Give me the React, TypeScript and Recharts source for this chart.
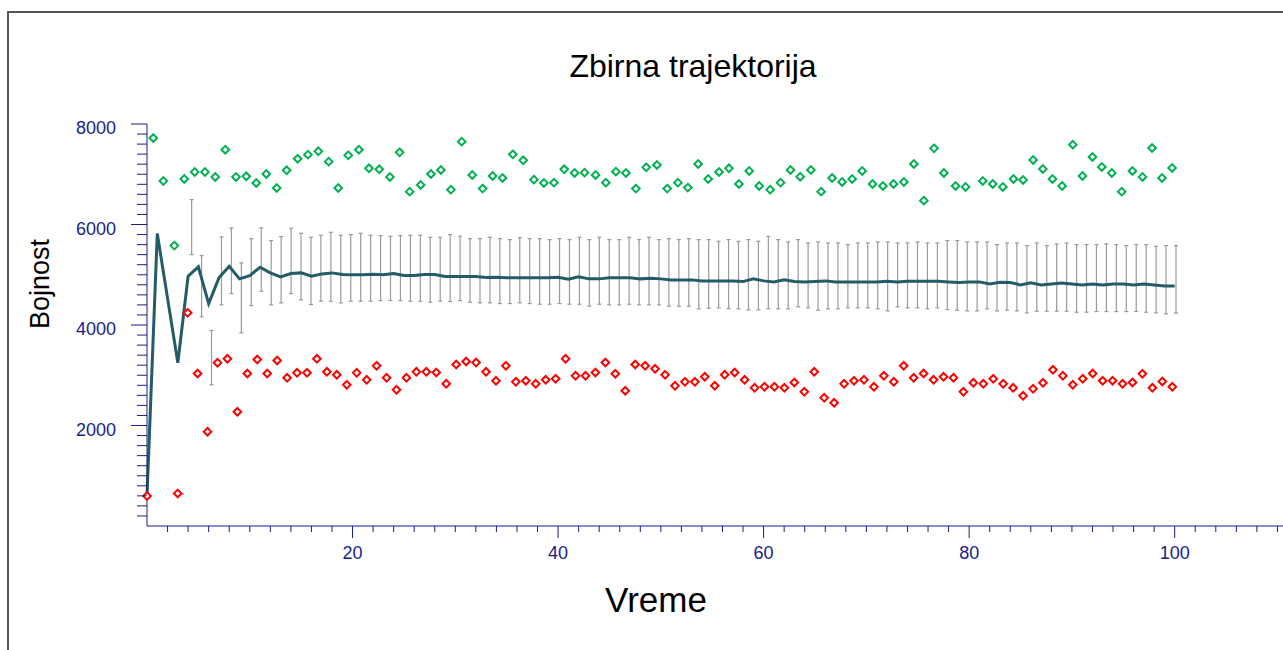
import React from 'react'
import { ComposedChart, Line, Scatter, XAxis, YAxis, ErrorBar } from 'recharts'

const AXIS = '#1c1c8c'
const MEAN = '#235c67'
const GREEN = '#00b050'
const RED = '#ff0000'
const BAR = '#9a9a9a'

// srednja vrednost, t = 0..100
const meanValues = [
  595, 5819, 4530, 3248, 4970, 5157, 4427, 4938, 5169, 4918,
  4984, 5149, 5037, 4958, 5023, 5037, 4970, 5017, 5037, 5004,
  4998, 4998, 5010, 5000, 5023, 4984, 4984, 5004, 5004, 4964,
  4964, 4964, 4964, 4944, 4950, 4938, 4938, 4938, 4938, 4940,
  4950, 4910, 4958, 4918, 4918, 4938, 4938, 4938, 4918, 4930,
  4918, 4898, 4898, 4898, 4878, 4878, 4878, 4878, 4864, 4918,
  4878, 4858, 4898, 4864, 4858, 4868, 4878, 4858, 4858, 4858,
  4858, 4858, 4871, 4858, 4871, 4871, 4871, 4871, 4858, 4844,
  4858, 4858, 4818, 4851, 4844, 4798, 4838, 4798, 4818, 4838,
  4818, 4798, 4818, 4798, 4818, 4818, 4798, 4818, 4798, 4778,
  4778,
]

// maksimum (zeleno): vreme i vrednost
const maxTimes = [
  0.61, 1.59, 2.66, 3.63, 4.64, 5.64, 6.64, 7.62, 8.66, 9.66,
  10.63, 11.61, 12.62, 13.59, 14.66, 15.66, 16.67, 17.68, 18.61, 19.58,
  20.62, 21.6, 22.6, 23.64, 24.58, 25.56, 26.63, 27.63, 28.6, 29.57,
  30.62, 31.65, 32.66, 33.63, 34.6, 35.6, 36.61, 37.65, 38.62, 39.6,
  40.6, 41.61, 42.58, 43.65, 44.65, 45.63, 46.6, 47.57, 48.58, 49.62,
  50.62, 51.66, 52.63, 53.63, 54.61, 55.66, 56.63, 57.6, 58.6, 59.57,
  60.64, 61.65, 62.62, 63.56, 64.6, 65.6, 66.67, 67.64, 68.62, 69.59,
  70.6, 71.61, 72.64, 73.65, 74.62, 75.59, 76.59, 77.54, 78.68, 79.65,
  81.33, 82.3, 83.28, 84.32, 85.25, 86.23, 87.17, 88.11, 89.05, 90.09,
  91.03, 92, 92.91, 93.88, 94.85, 95.89, 96.87, 97.8, 98.77, 99.75,
]
const maxValues = [
  7722, 6867, 5580, 6907, 7046, 7046, 6947, 7489, 6947, 6959,
  6827, 7006, 6728, 7078, 7310, 7390, 7456, 7251, 6728, 7376,
  7489, 7118, 7098, 6947, 7436, 6654, 6787, 7006, 7086, 6694,
  7649, 6986, 6714, 6966, 6927, 7396, 7277, 6893, 6827, 6833,
  7098, 7026, 7032, 6986, 6833, 7052, 7026, 6714, 7137, 7185,
  6714, 6833, 6734, 7205, 6907, 7046, 7118, 6807, 7066, 6767,
  6694, 6833, 7086, 6952, 7086, 6654, 6927, 6847, 6907, 7066,
  6807, 6767, 6807, 6847, 7205, 6475, 7515, 7026, 6767, 6748,
  6867, 6807, 6748, 6907, 6887, 7285, 7106, 6907, 6767, 7589,
  6966, 7344, 7146, 7026, 6654, 7066, 6947, 7523, 6927, 7126,
]

// minimum (crveno), po redu
const startMin = 596
const minValues = [
  648, 4242, 3035, 1875, 3248, 3327, 2273, 3035, 3313, 3035,
  3293, 2949, 3049, 3049, 3327, 3069, 3009, 2810, 3049, 2909,
  3188, 2949, 2711, 2949, 3069, 3069, 3055, 2830, 3214, 3273,
  3253, 3069, 2890, 3188, 2870, 2890, 2830, 2909, 2929, 3327,
  2989, 2989, 3055, 3253, 3029, 2691, 3214, 3188, 3128, 3009,
  2790, 2870, 2870, 2969, 2790, 3009, 3055, 2909, 2750, 2770,
  2770, 2750, 2856, 2671, 3069, 2551, 2452, 2830, 2890, 2909,
  2770, 2989, 2870, 3188, 2949, 3035, 2909, 2969, 2949, 2671,
  2850, 2830, 2929, 2830, 2750, 2591, 2730, 2850, 3108, 2989,
  2810, 2929, 3035, 2890, 2890, 2830, 2856, 3029, 2750, 2876,
  2770,
]

// rasipanje (sive linije), po redu
const barHigh = [
  636, 6495, 5381, 3890, 5753, 5932, 5236, 5719, 5932, 5680,
  5759, 5924, 5825, 5745, 5785, 5845, 5785, 5799, 5825, 5785,
  5779, 5765, 5779, 5785, 5785, 5745, 5745, 5799, 5765, 5719,
  5719, 5745, 5719, 5699, 5739, 5719, 5719, 5699, 5719, 5699,
  5745, 5699, 5745, 5699, 5699, 5745, 5699, 5745, 5699, 5719,
  5699, 5719, 5699, 5699, 5666, 5699, 5666, 5699, 5666, 5765,
  5699, 5653, 5699, 5633, 5653, 5633, 5633, 5600, 5633, 5633,
  5653, 5653, 5633, 5633, 5653, 5633, 5633, 5680, 5680, 5653,
  5653, 5653, 5600, 5633, 5633, 5580, 5633, 5580, 5613, 5633,
  5600, 5600, 5600, 5613, 5600, 5580, 5600, 5600, 5567, 5580,
  5580,
]
const barLow = [
  636, 5401, 4162, 2810, 4401, 4626, 3844, 4387, 4671, 4401,
  4441, 4626, 4500, 4407, 4473, 4473, 4441, 4473, 4473, 4473,
  4487, 4487, 4487, 4473, 4473, 4453, 4473, 4467, 4487, 4453,
  4441, 4441, 4427, 4427, 4441, 4427, 4413, 4413, 4427, 4413,
  4413, 4373, 4413, 4401, 4401, 4413, 4401, 4401, 4401, 4373,
  4373, 4373, 4321, 4333, 4341, 4327, 4321, 4301, 4301, 4321,
  4321, 4321, 4361, 4341, 4294, 4321, 4321, 4341, 4341, 4341,
  4321, 4281, 4361, 4341, 4341, 4321, 4341, 4308, 4294, 4281,
  4281, 4321, 4281, 4294, 4281, 4241, 4274, 4274, 4274, 4274,
  4254, 4254, 4268, 4268, 4268, 4268, 4268, 4254, 4241, 4222,
  4241,
]

const xLabels = [20, 40, 60, 80, 100]
const yLabels = [2000, 4000, 6000, 8000]
const xTicks = Array.from({ length: 55 }, (_, i) => (i + 1) * 2)
const yTicks = Array.from({ length: 40 }, (_, i) => (i + 1) * 200)

const meanData = meanValues.map((v, i) => ({ x: i, y: v }))
const maxData = maxTimes.map((t, i) => ({ x: t, y: maxValues[i] }))
const minData = minValues.map((v, i) => ({ x: i, y: v }))
const startData = [{ x: 0, y: startMin }]
const barData = barLow.map((lo, i) => ({ x: i, y: lo, err: [0, barHigh[i] - lo] }))

const diamond = (color: string) => (props: any) => {
  const { cx, cy } = props
  const r = 3.8
  return (
    <path
      d={`M${cx},${cy - r}L${cx + r},${cy}L${cx},${cy + r}L${cx - r},${cy}Z`}
      fill="#fff"
      stroke={color}
      strokeWidth={2}
    />
  )
}

const Empty = () => <g />

const YTick = (props: any) => {
  const { x, y, payload } = props
  const major = yLabels.includes(payload.value)
  return (
    <g>
      <line x1={x - (major ? 16 : 10)} x2={x} y1={y} y2={y} stroke={AXIS} strokeWidth={1} />
      {major && (
        <text x={x - 31} y={y + 10} textAnchor="end" fill={AXIS} fontSize={18}>
          {payload.value}
        </text>
      )}
    </g>
  )
}

const XTick = (props: any) => {
  const { x, y, payload } = props
  const major = xLabels.includes(payload.value)
  return (
    <g>
      <line x1={x} x2={x} y1={y} y2={y + (major ? 12 : 6)} stroke={AXIS} strokeWidth={1} />
      {major && (
        <text x={x} y={y + 33} textAnchor="middle" fill={AXIS} fontSize={18}>
          {payload.value}
        </text>
      )}
    </g>
  )
}

export default function App() {
  return (
    <div
      style={{
        position: 'fixed',
        left: 0,
        top: 0,
        width: 1283,
        height: 650,
        overflow: 'hidden',
        background: '#fff',
        fontFamily: '"Liberation Sans", Arial, sans-serif',
      }}
    >
      <div
        style={{
          position: 'absolute',
          left: 7,
          top: 11,
          width: 1400,
          height: 800,
          border: '2px solid #555',
        }}
      />
      <div style={{ position: 'absolute', left: 0, top: 0 }}>
        <ComposedChart width={1298} height={576} margin={{ top: 124, right: 0, bottom: 0, left: 0 }} style={{ overflow: 'visible' }}>
          <XAxis
            xAxisId="t"
            type="number"
            dataKey="x"
            domain={[0, 112]}
            ticks={xTicks}
            interval={0}
            tickSize={0}
            tickMargin={0}
            tick={<XTick />}
            height={50}
            stroke={AXIS}
          />
          <XAxis xAxisId="minK" type="number" dataKey="x" domain={[-3.087, 112.64]} height={0} hide />
          <XAxis xAxisId="barK" type="number" dataKey="x" domain={[-3.49, 112.27]} height={0} hide />
          <YAxis
            type="number"
            domain={[0, 8000]}
            ticks={yTicks}
            interval={0}
            tickSize={0}
            tickMargin={0}
            tick={<YTick />}
            width={147}
            stroke={AXIS}
          />
          <Scatter xAxisId="barK" data={barData} dataKey="y" shape={<Empty />} isAnimationActive={false}>
            <ErrorBar dataKey="err" direction="y" width={2} stroke={BAR} strokeWidth={1.2} isAnimationActive={false} />
          </Scatter>
          <Line
            xAxisId="t"
            data={meanData}
            dataKey="y"
            type="linear"
            stroke={MEAN}
            strokeWidth={3}
            dot={false}
            isAnimationActive={false}
          />
          <Scatter xAxisId="t" data={maxData} dataKey="y" shape={diamond(GREEN)} isAnimationActive={false} />
          <Scatter xAxisId="minK" data={minData} dataKey="y" shape={diamond(RED)} isAnimationActive={false} />
          <Scatter xAxisId="t" data={startData} dataKey="y" shape={diamond(RED)} isAnimationActive={false} />
        </ComposedChart>
      </div>
      <svg width={1283} height={650} style={{ position: 'absolute', left: 0, top: 0, pointerEvents: 'none' }}>
        <text x={693} y={77} textAnchor="middle" fontSize={32} fill="#000">
          Zbirna trajektorija
        </text>
        <text x={49} y={284} textAnchor="middle" fontSize={27} fill="#000" transform="rotate(-90 49 284)">
          Bojnost
        </text>
        <text x={656} y={612} textAnchor="middle" fontSize={35} fill="#000">
          Vreme
        </text>
      </svg>
    </div>
  )
}
